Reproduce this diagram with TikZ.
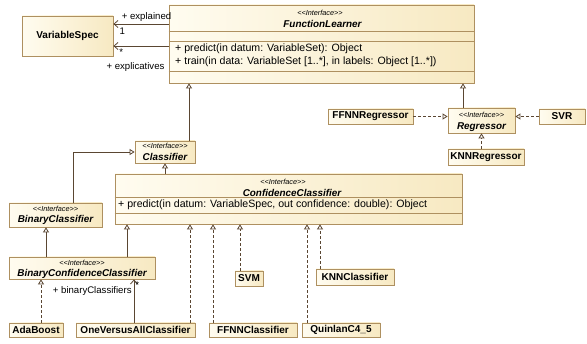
\documentclass[tikz,border=0pt]{standalone}
\usepackage{fontspec}
\setmainfont{Liberation Sans}
\usetikzlibrary{arrows.meta,shadows}
\definecolor{boxpale}{HTML}{FFFCF0}
\definecolor{boxfill}{HTML}{F7E9C2}
\definecolor{boxline}{HTML}{AE9060}
\definecolor{linkline}{HTML}{5A4632}
\newcommand{\stereotype}[1]{\textless\kern0pt\textless #1\textgreater\kern0pt\textgreater}
\tikzset{
  umlbox/.style={draw=boxline, line width=0.8pt, left color=boxpale, right color=boxfill,
    inner sep=0pt, drop shadow={shadow xshift=1pt, shadow yshift=-1pt, fill=boxline, opacity=0.45}},
  cname/.style={font=\fontsize{10}{12}\selectfont\bfseries},
  iname/.style={font=\fontsize{9.9}{12}\selectfont\bfseries\itshape},
  stereo/.style={font=\fontsize{7.3}{8}\selectfont\itshape, inner sep=0pt},
  optext/.style={font=\fontsize{10.6}{12}\selectfont, anchor=west, inner sep=0pt},
  role/.style={font=\fontsize{9.6}{11}\selectfont, inner sep=1pt},
  sepline/.style={draw=boxline, line width=0.8pt},
  generalize/.style={draw=linkline, line width=0.8pt, -{Triangle[open, length=5pt, width=6pt]}},
  realize/.style={generalize, dash pattern=on 3pt off 2pt},
  assoc/.style={draw=linkline, line width=0.8pt, -{Straight Barb[length=4pt, width=7pt]}}
}
\begin{document}
\begin{tikzpicture}[x=1pt, y=-1pt]
  \useasboundingbox[fill=white] (0,0) rectangle (587,344);

  \node[umlbox, minimum width=305pt, minimum height=78pt] (learner) at (321.5,44) {};
  \draw[sepline] (learner.west |- 0,31) -- (learner.east |- 0,31);
  \draw[sepline] (learner.west |- 0,41) -- (learner.east |- 0,41);
  \draw[sepline] (learner.west |- 0,71) -- (learner.east |- 0,71);
  \node[stereo] (learnerst) at (320,13) {\stereotype{Interface}};
  \node[iname, inner sep=0pt] (learnername) at (322.5,24) {FunctionLearner};
  \node[optext] (learnerop1) at (175,49) {+ predict(in datum: VariableSet): Object};
  \node[optext] (learnerop2) at (175,62) {+ train(in data: VariableSet [1..*], in labels: Object [1..*])};

  \node[umlbox, cname, minimum width=91pt, minimum height=40pt] (varspec) at (67.5,36) {VariableSpec};

  \node[umlbox, minimum width=67pt, minimum height=25pt] (regressor) at (481.5,120.5) {};
  \node[stereo] (regressorst) at (481.5,115) {\stereotype{Interface}};
  \node[iname, inner sep=0pt] (regressorname) at (481.5,127) {Regressor};
  \node[umlbox, cname, minimum width=85pt, minimum height=15pt] (ffnnreg) at (370.5,116.5) {FFNNRegressor};
  \node[umlbox, cname, minimum width=46pt, minimum height=15pt] (svr) at (562,116.5) {SVR};
  \node[umlbox, cname, minimum width=76pt, minimum height=16pt] (knnreg) at (486,157) {KNNRegressor};

  \node[umlbox, minimum width=60pt, minimum height=22pt] (classifier) at (165,152) {};
  \node[stereo] (classifierst) at (165,146) {\stereotype{Interface}};
  \node[iname, inner sep=0pt] (classifiername) at (165,157) {Classifier};

  \node[umlbox, minimum width=93pt, minimum height=24pt] (binclass) at (55.5,215) {};
  \node[stereo] (binclassst) at (55.5,209) {\stereotype{Interface}};
  \node[iname, inner sep=0pt] (binclassname) at (55.5,220) {BinaryClassifier};

  \node[umlbox, minimum width=347pt, minimum height=50pt] (confclass) at (288.5,199) {};
  \draw[sepline] (confclass.west |- 0,197) -- (confclass.east |- 0,197);
  \draw[sepline] (confclass.west |- 0,213) -- (confclass.east |- 0,213);
  \node[stereo] (confclassst) at (283,182) {\stereotype{Interface}};
  \node[iname, inner sep=0pt] (confclassname) at (292,193) {ConfidenceClassifier};
  \node[optext] (confclassop) at (118,205) {+ predict(in datum: VariableSpec, out confidence: double): Object};

  \node[umlbox, minimum width=146pt, minimum height=22pt] (bcc) at (82,268) {};
  \node[stereo] (bccst) at (82,263) {\stereotype{Interface}};
  \node[iname, inner sep=0pt] (bccname) at (82,274) {BinaryConfidenceClassifier};

  \node[umlbox, cname, minimum width=54pt, minimum height=14pt] (adaboost) at (36,330) {AdaBoost};
  \node[umlbox, cname, minimum width=119pt, minimum height=14pt] (ova) at (135.5,330) {OneVersusAllClassifier};
  \node[umlbox, cname, minimum width=88pt, minimum height=14pt] (ffnncls) at (253,330) {FFNNClassifier};
  \node[umlbox, cname, minimum width=28pt, minimum height=15pt] (svm) at (249,278.5) {SVM};
  \node[umlbox, cname, minimum width=78pt, minimum height=14pt] (quinlan) at (341,330) {QuinlanC4\_5};
  \node[umlbox, cname, minimum width=78pt, minimum height=16pt] (knncls) at (355,277) {KNNClassifier};

  \draw[assoc] ([yshift=20pt]learner.west) -- node[role, pos=0.4, above=1pt] {+ explained}
    node[role, pos=0.84, below=3pt] {1} ([yshift=20pt]learner.west -| varspec.east);
  \draw[assoc] ([yshift=-2pt]learner.west) -- node[role, pos=0.86, below=1pt] {*}
    node[role, pos=0.6, below=15pt] {+ explicatives} ([yshift=-2pt]learner.west -| varspec.east);

  \draw[generalize] ([xshift=-18.5pt]regressor.north) -- ([xshift=-18.5pt]regressor.north |- learner.south);
  \draw[realize] (ffnnreg.east) -- (ffnnreg.east -| regressor.west);
  \draw[realize] (svr.west) -- (svr.west -| regressor.east);
  \draw[realize] (regressor.south |- knnreg.north) -- (regressor.south);

  \draw[generalize] ([xshift=24pt]classifier.north) -- ([xshift=24pt]classifier.north |- learner.south);
  \draw[generalize] ([xshift=17.5pt]binclass.north) |- (classifier.west);
  \draw[generalize] (classifier.south |- confclass.north) -- (classifier.south);

  \draw[generalize] ([xshift=-36pt]bcc.north) -- ([xshift=-36pt]bcc.north |- binclass.south);
  \draw[generalize] ([xshift=45pt]bcc.north) -- ([xshift=45pt]bcc.north |- confclass.south);

  \draw[realize] ([xshift=5pt]adaboost.north) -- ([xshift=5pt]adaboost.north |- bcc.south);
  \draw[assoc] ([xshift=-1.5pt]ova.north) -- node[role, pos=0.72, left=1pt] {+ binaryClassifiers}
    node[role, pos=0.86, right=0pt] {*} ([xshift=-1.5pt]ova.north |- bcc.south);
  \draw[realize] ([xshift=54.5pt]ova.north) -- ([xshift=54.5pt]ova.north |- confclass.south);
  \draw[realize] ([xshift=-40pt]ffnncls.north) -- ([xshift=-40pt]ffnncls.north |- confclass.south);
  \draw[realize] ([xshift=-9pt]svm.north) -- ([xshift=-9pt]svm.north |- confclass.south);
  \draw[realize] ([xshift=-34pt]quinlan.north) -- ([xshift=-34pt]quinlan.north |- confclass.south);
  \draw[realize] ([xshift=-35pt]knncls.north) -- ([xshift=-35pt]knncls.north |- confclass.south);
\end{tikzpicture}
\end{document}
